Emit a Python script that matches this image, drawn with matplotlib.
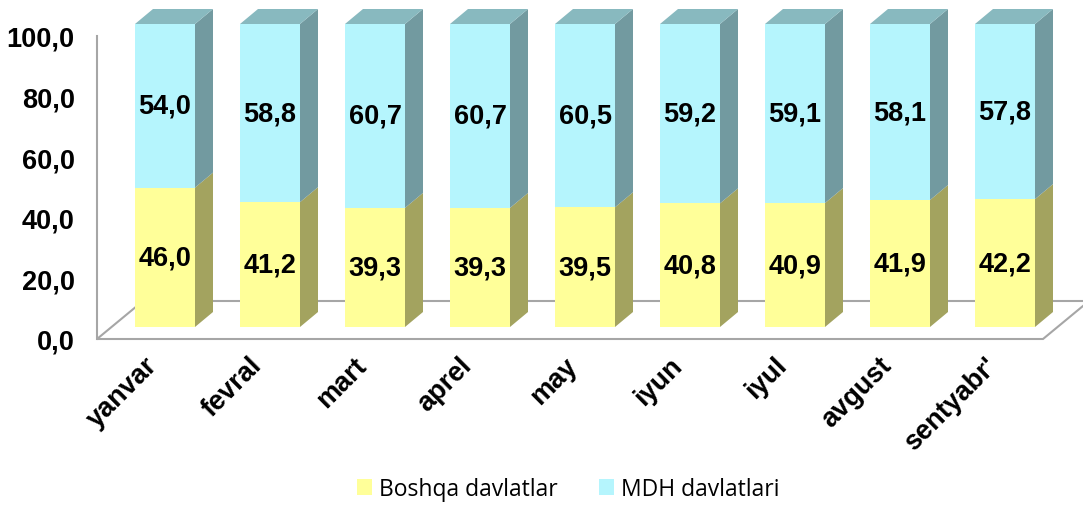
import matplotlib
matplotlib.use("Agg")
import matplotlib.pyplot as plt
from matplotlib.patches import Patch

months = ["yanvar", "fevral", "mart", "aprel", "may", "iyun", "iyul", "avgust", "sentyabr'"]
boshqa = [46.0, 41.2, 39.3, 39.3, 39.5, 40.8, 40.9, 41.9, 42.2]
mdh = [54.0, 58.8, 60.7, 60.7, 60.5, 59.2, 59.1, 58.1, 57.8]
yticks = [0, 20, 40, 60, 80, 100]

W, H = 1083, 506
PX_X = 105.0          # pixels per category
PX_Y = 3.03           # pixels per value unit
X0_PX, Y0_PX = 165, 340

YEL, YEL_SIDE = "#FFFF99", "#A3A35F"
CYA, CYA_SIDE, CYA_TOP = "#B5F5FD", "#729AA0", "#88B9BF"
FONT = "Liberation Sans"
FS = 19.5


def px(x, y):
    return (x - X0_PX) / PX_X, (Y0_PX - y) / PX_Y


fig = plt.figure(figsize=(W / 100, H / 100), dpi=100)
left_px, right_px = 97, W
ax = fig.add_axes([left_px / W, (H - Y0_PX) / H, (right_px - left_px) / W, 100 * PX_Y / H])
ax.set_xlim(px(left_px, 0)[0], px(right_px, 0)[0])
ax.set_ylim(0, 100)

for s in ["top", "right", "bottom"]:
    ax.spines[s].set_visible(False)
ax.spines["left"].set_color("#a6a6a6")
ax.spines["left"].set_linewidth(1.5)

# floor
fl = [px(97, 340), px(1043, 340), px(1043 + 46, 302), px(97 + 46, 302)]
ax.fill([p[0] for p in fl], [p[1] for p in fl], facecolor="white",
        edgecolor="#a6a6a6", linewidth=1.5, clip_on=False, zorder=1)

bw = 60 / PX_X
dx = 18 / PX_X
dy = 15 / PX_Y
off = 12 / PX_Y
xs = list(range(len(months)))

ax.bar(xs, boshqa, width=bw, bottom=off, color=YEL, zorder=3, clip_on=False)
tops = [off + b for b in boshqa]
ax.bar(xs, mdh, width=bw, bottom=tops, color=CYA, zorder=3, clip_on=False)

for i in xs:
    xr = i + bw / 2
    xl = i - bw / 2
    y1 = off + boshqa[i]
    y2 = y1 + mdh[i]
    ax.fill([xr, xr + dx, xr + dx, xr], [off, off + dy, y1 + dy, y1],
            color=YEL_SIDE, zorder=3, clip_on=False, linewidth=0)
    ax.fill([xr, xr + dx, xr + dx, xr], [y1, y1 + dy, y2 + dy, y2],
            color=CYA_SIDE, zorder=3, clip_on=False, linewidth=0)
    ax.fill([xl, xr, xr + dx, xl + dx], [y2, y2, y2 + dy, y2 + dy],
            color=CYA_TOP, zorder=3, clip_on=False, linewidth=0)
    ax.text(i, off + boshqa[i] / 2, f"{boshqa[i]:.1f}".replace(".", ","),
            ha="center", va="center", fontsize=FS, fontweight="bold",
            family=FONT, zorder=5)
    ax.text(i, y1 + mdh[i] / 2, f"{mdh[i]:.1f}".replace(".", ","),
            ha="center", va="center", fontsize=FS, fontweight="bold",
            family=FONT, zorder=5)
    lx, ly = px(0, 362)
    ax.text(i - 12 / PX_X, ly, months[i], rotation=45, rotation_mode="anchor",
            ha="right", va="center", fontsize=FS, fontweight="bold",
            family=FONT, clip_on=False)

ax.set_xticks([])
ax.set_yticks(yticks)
ax.set_yticklabels([f"{t:.1f}".replace(".", ",") for t in yticks],
                   fontsize=FS, fontweight="bold", family=FONT)
ax.tick_params(axis="y", length=0, pad=16)
ax.patch.set_visible(False)

handles = [Patch(facecolor=YEL, edgecolor="none", label="Boshqa davlatlar"),
           Patch(facecolor=CYA, edgecolor="none", label="MDH davlatlari")]
fig.legend(handles=handles, loc="center", bbox_to_anchor=(568 / W, 1 - 490 / H),
           ncol=2, frameon=False, prop={"family": "Open Sans", "size": 16.5},
           handlelength=0.65, handleheight=0.65, handletextpad=0.3, columnspacing=1.8)

fig.savefig("out.png", dpi=100)
